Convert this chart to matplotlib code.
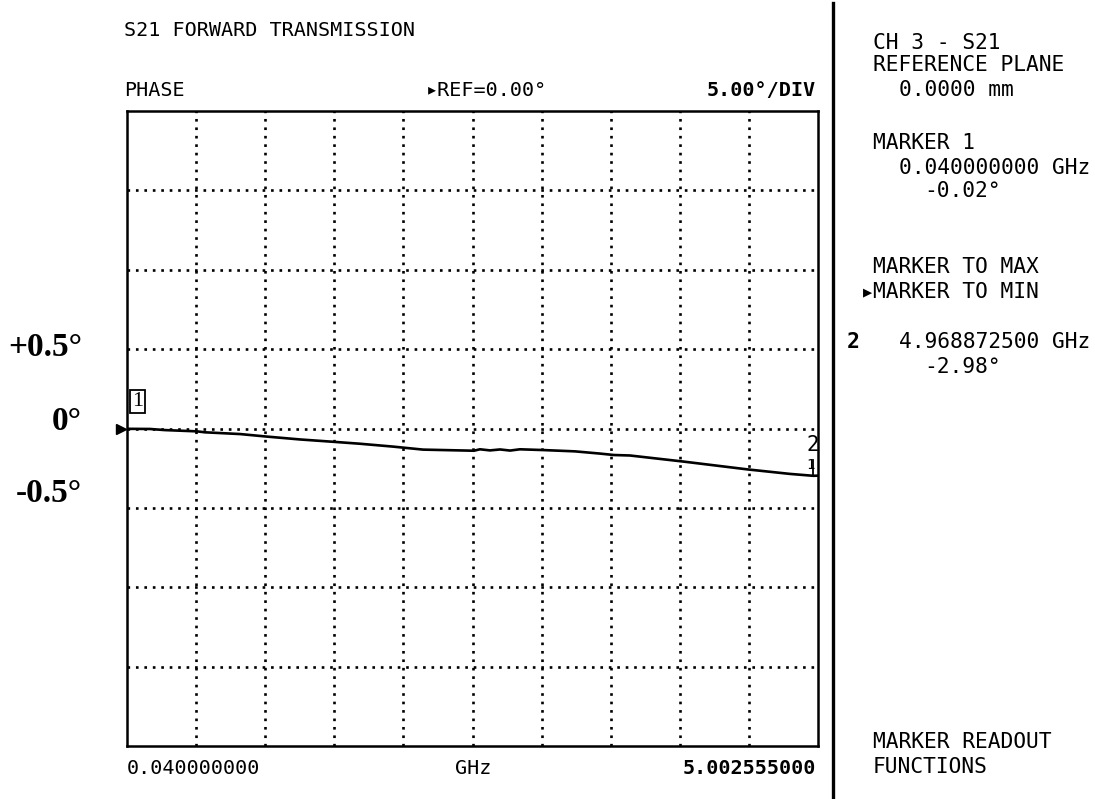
import matplotlib.pyplot as plt
import matplotlib.transforms as mtransforms
import numpy as np

# S21 phase trace (GHz, degrees)
freq_ghz = [0.040, 0.205, 0.313, 0.543, 0.600, 0.852, 1.045, 1.282, 1.541, 1.713,
            1.950, 2.166, 2.532, 2.575, 2.647, 2.719, 2.791, 2.862, 3.035, 3.257,
            3.437, 3.537, 3.652, 4.033, 4.500, 4.801, 4.9688725, 5.002555]
phase_deg = [-0.02, -0.03, -0.10, -0.18, -0.24, -0.35, -0.51, -0.69, -0.85, -0.96,
             -1.14, -1.33, -1.40, -1.31, -1.38, -1.32, -1.39, -1.31, -1.36, -1.44,
             -1.58, -1.67, -1.70, -2.08, -2.58, -2.86, -2.98, -2.97]

start_ghz = 0.040
stop_ghz = 5.002555
ref_deg = 0.0
deg_per_div = 5.0
n_xdiv, n_ydiv = 10, 8

marker1 = (0.040, -0.02)
marker2 = (4.9688725, -2.98)

side_labels = ["+0.5°", "0°", "-0.5°"]
side_label_y = [348, 422, 493]

# (text, column, row y) for the readout panel, columns of a fixed-pitch screen font
panel_lines = [
    ("CH 3 - S21", 0, 43),
    ("REFERENCE PLANE", 0, 65),
    ("0.0000 mm", 2, 90),
    ("MARKER 1", 0, 143),
    ("0.040000000 GHz", 2, 168),
    ("-0.02°", 4, 191),
    ("MARKER TO MAX", 0, 267),
    ("MARKER TO MIN", 0, 292),
    ("4.968872500 GHz", 2, 342),
    ("-2.98°", 4, 367),
    ("MARKER READOUT", 0, 742),
    ("FUNCTIONS", 0, 767),
]

W, H = 1095, 799
MONO = ["DejaVu Sans Mono", "DejaVu Sans"]
SERIF = ["Liberation Serif", "DejaVu Serif"]
COL0, PITCH = 873, 12.8


def fx(px):
    return px / W


def fy(py):
    return 1 - py / H


fig = plt.figure(figsize=(W / 100, H / 100), dpi=100)
fig.patch.set_facecolor("white")

ax = fig.add_axes([fx(127), fy(746), fx(818) - fx(127), fy(111) - fy(746)])
ax.set_xlim(start_ghz, stop_ghz)
half = deg_per_div * n_ydiv / 2
ax.set_ylim(ref_deg - half, ref_deg + half)

# dotted graticule
for xv in np.linspace(start_ghz, stop_ghz, n_xdiv + 1)[1:-1]:
    ax.axvline(xv, color="black", lw=1.9, ls=(0, (1, 2.2)), zorder=1)
for yv in np.linspace(ref_deg - half, ref_deg + half, n_ydiv + 1)[1:-1]:
    ax.axhline(yv, color="black", lw=1.9, ls=(0, (1, 2.2)), zorder=1)

ax.set_xticks([])
ax.set_yticks([])
for s in ax.spines.values():
    s.set_linewidth(1.8)

ax.plot(freq_ghz, phase_deg, color="black", lw=1.9, zorder=3)

# reference position arrow on the left edge
trans = mtransforms.blended_transform_factory(ax.transAxes, ax.transData)
ax.plot([-0.009], [ref_deg], marker=">", color="black", ms=7, transform=trans, clip_on=False)

# marker 1: boxed label at start
ax.annotate("1", xy=marker1, xytext=(10.5, 27.5), textcoords="offset pixels",
            ha="center", va="center", fontsize=16, family=SERIF,
            bbox=dict(boxstyle="square,pad=0.1", fc="white", ec="black", lw=1.3))

# marker 2 at the minimum
ax.plot([marker2[0], marker2[0]], [marker2[1], marker2[1] + 1.0], color="black", lw=1.3, zorder=4)
ax.annotate("2", xy=marker2, xytext=(0, 31), textcoords="offset pixels",
            ha="center", va="center", fontsize=15, family=MONO)
ax.annotate("1", xy=marker2, xytext=(-3, 11), textcoords="offset pixels",
            ha="center", va="center", fontsize=10, family=MONO)

# header texts
fig.text(fx(124), fy(30), "S21 FORWARD TRANSMISSION", family=MONO, fontsize=14.5, va="center")
fig.text(fx(124), fy(90), "PHASE", family=MONO, fontsize=14.5, va="center")
fig.text(fx(486), fy(90), "▸REF=0.00°", family=MONO, fontsize=14.5, va="center", ha="center")
fig.text(fx(816), fy(90), "5.00°/DIV", family=MONO, fontsize=14.5, va="center", ha="right",
         fontweight="bold")

# frequency axis texts
fig.text(fx(127), fy(768), "0.040000000", family=MONO, fontsize=14.5, va="center")
fig.text(fx(473), fy(768), "GHz", family=MONO, fontsize=14.5, va="center", ha="center")
fig.text(fx(816), fy(768), "5.002555000", family=MONO, fontsize=14.5, va="center", ha="right",
         fontweight="bold")

# hand-added scale labels
for lbl, yp in zip(side_labels, side_label_y):
    fig.text(fx(82), fy(yp), lbl, family=SERIF, fontsize=24, fontweight="bold",
             ha="right", va="center")

# softkey / readout panel
fig.add_artist(plt.Line2D([fx(833), fx(833)], [fy(3), fy(799)], color="black", lw=2.4))
for txt, col, yp in panel_lines:
    fig.text(fx(COL0 + col * PITCH), fy(yp), txt, family=MONO, fontsize=15.3, va="center")
fig.text(fx(872), fy(292), "▶", family=MONO, fontsize=11, va="center", ha="right")
fig.text(fx(847), fy(342), "2", family=MONO, fontsize=15.3, va="center", fontweight="bold")

fig.savefig("out.png", dpi=100, facecolor="white")
